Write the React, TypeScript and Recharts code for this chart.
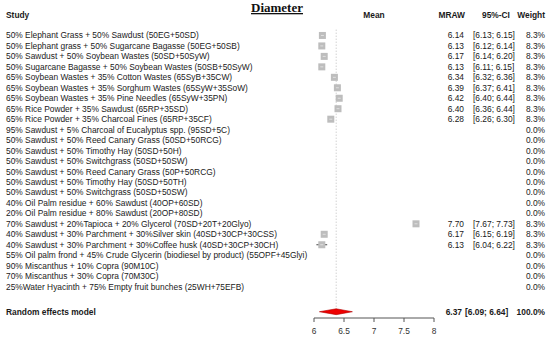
import React from "react";
import { ScatterChart, Scatter, XAxis, YAxis, ErrorBar, ReferenceLine } from "recharts";

const studies: string[] = [
  "50% Elephant Grass + 50% Sawdust (50EG+50SD)",
  "50% Elephant grass + 50% Sugarcane Bagasse (50EG+50SB)",
  "50% Sawdust + 50% Soybean Wastes (50SD+50SyW)",
  "50% Sugarcane Bagasse + 50% Soybean Wastes (50SB+50SyW)",
  "65% Soybean Wastes + 35% Cotton Wastes (65SyB+35CW)",
  "65% Soybean Wastes + 35% Sorghum Wastes (65SyW+35SoW)",
  "65% Soybean Wastes + 35% Pine Needles (65SyW+35PN)",
  "65% Rice Powder + 35% Sawdust (65RP+35SD)",
  "65% Rice Powder + 35% Charcoal Fines (65RP+35CF)",
  "95% Sawdust + 5% Charcoal of Eucalyptus spp. (95SD+5C)",
  "50% Sawdust + 50% Reed Canary Grass  (50SD+50RCG)",
  "50% Sawdust + 50% Timothy Hay (50SD+50H)",
  "50% Sawdust + 50% Switchgrass (50SD+50SW)",
  "50% Sawdust + 50% Reed Canary Grass  (50P+50RCG)",
  "50% Sawdust + 50% Timothy Hay (50SD+50TH)",
  "50% Sawdust + 50% Switchgrass (50SD+50SW)",
  "40% Oil Palm residue + 60% Sawdust (40OP+60SD)",
  "20% Oil Palm residue + 80% Sawdust (20OP+80SD)",
  "70% Sawdust + 20%Tapioca + 20% Glycerol (70SD+20T+20Glyo)",
  "40% Sawdust + 30% Parchment + 30%Silver skin (40SD+30CP+30CSS)",
  "40% Sawdust + 30% Parchment + 30%Coffee husk (40SD+30CP+30CH)",
  "55% Oil palm frond + 45% Crude Glycerin (biodiesel by product) (55OPF+45Glyi)",
  "90% Miscanthus + 10% Copra (90M10C)",
  "70% Miscanthus + 30% Copra (70M30C)",
  "25%Water Hyacinth + 75% Empty fruit bunches (25WH+75EFB)",
];

const means: (number | null)[] = [
  6.14, 6.13, 6.17, 6.13, 6.34, 6.39, 6.42, 6.40, 6.28,
  null, null, null, null, null, null, null, null, null,
  7.70, 6.17, 6.13,
  null, null, null, null,
];
const lows: (number | null)[] = [
  6.13, 6.12, 6.14, 6.11, 6.32, 6.37, 6.40, 6.36, 6.26,
  null, null, null, null, null, null, null, null, null,
  7.67, 6.15, 6.04,
  null, null, null, null,
];
const highs: (number | null)[] = [
  6.15, 6.14, 6.20, 6.15, 6.36, 6.41, 6.44, 6.44, 6.30,
  null, null, null, null, null, null, null, null, null,
  7.73, 6.19, 6.22,
  null, null, null, null,
];
const weights: number[] = [
  8.3, 8.3, 8.3, 8.3, 8.3, 8.3, 8.3, 8.3, 8.3,
  0, 0, 0, 0, 0, 0, 0, 0, 0,
  8.3, 8.3, 8.3,
  0, 0, 0, 0,
];

const pooledMean = 6.37;
const pooledLow = 6.09;
const pooledHigh = 6.64;
const pooledWeight = 100.0;

const xTicks = [6, 6.5, 7, 7.5, 8];

const RANDOM_ROW = 27.4;
const DIAMOND_HALF = 0.28;

const studyPoints = means
  .map((m, i) =>
    m === null
      ? null
      : { x: m, y: i + 1, err: [m - (lows[i] as number), (highs[i] as number) - m] }
  )
  .filter((p) => p !== null) as { x: number; y: number; err: number[] }[];

const diamondPoints = [
  { x: pooledLow, y: RANDOM_ROW },
  { x: pooledMean, y: RANDOM_ROW - DIAMOND_HALF },
  { x: pooledHigh, y: RANDOM_ROW },
  { x: pooledMean, y: RANDOM_ROW + DIAMOND_HALF },
  { x: pooledLow, y: RANDOM_ROW },
];

const rowTicks = [...studies.map((_, i) => i + 1), RANDOM_ROW];

const FONT = "'Liberation Sans', Arial, sans-serif";
const FS = 8.4;
const TXT = "#1a1a1a";

const fmt2 = (v: number) => v.toFixed(2);

const RowTick = (props: any) => {
  const { y, payload } = props;
  const v = payload.value;
  const isPooled = Math.abs(v - RANDOM_ROW) < 1e-6;
  const idx = Math.round(v) - 1;
  let label: string;
  let mean: string = "";
  let ci: string = "";
  let w: string;
  if (isPooled) {
    label = "Random effects model";
    mean = fmt2(pooledMean);
    ci = `[${fmt2(pooledLow)}; ${fmt2(pooledHigh)}]`;
    w = `${pooledWeight.toFixed(1)}%`;
  } else {
    label = studies[idx];
    const m = means[idx];
    if (m !== null) {
      mean = fmt2(m);
      ci = `[${fmt2(lows[idx] as number)}; ${fmt2(highs[idx] as number)}]`;
    }
    w = `${weights[idx].toFixed(1)}%`;
  }
  const common = {
    fontFamily: FONT,
    fontSize: FS,
    fill: TXT,
    dominantBaseline: "central" as const,
    fontWeight: isPooled ? 700 : 400,
  };
  return (
    <g>
      <text x={6} y={y} textAnchor="start" {...common}>{label}</text>
      {mean && <text x={isPooled ? 462 : 464} y={y} textAnchor="end" {...common}>{mean}</text>}
      {ci && <text x={isPooled ? 465 : 473} y={y} textAnchor="start" {...common}>{ci}</text>}
      <text x={545} y={y} textAnchor="end" {...common}>{w}</text>
    </g>
  );
};

const BoxShape = (props: any) => {
  const { cx, cy } = props;
  if (cx == null || cy == null) return <g />;
  const s = 7;
  return (
    <g>
      <rect x={cx - s / 2} y={cy - s / 2} width={s} height={s} fill="#bdbdbd" />
      <line x1={cx - 1.5} x2={cx + 1.5} y1={cy} y2={cy} stroke="#e8e8e8" strokeWidth={0.8} />
    </g>
  );
};

const NoShape = () => <g />;

export default function App() {
  return (
    <div style={{ position: "absolute", left: 0, top: 0, width: 550, height: 342, background: "#fff" }}>
      <ScatterChart
        width={550}
        height={342}
        margin={{ top: 25, right: 116, bottom: 0, left: 0 }}
      >
        <XAxis
          type="number"
          dataKey="x"
          domain={[6, 8]}
          ticks={xTicks}
          allowDataOverflow
          height={24}
          tickSize={4}
          tickMargin={6}
          stroke="#555"
          axisLine={{ stroke: "#555" }}
          tickLine={{ stroke: "#555" }}
          tick={{ fontFamily: FONT, fontSize: FS, fill: "#333" }}
          tickFormatter={(v: number) => String(v)}
        />
        <YAxis
          type="number"
          dataKey="y"
          domain={[0, 28]}
          reversed
          ticks={rowTicks}
          interval={0}
          width={314}
          axisLine={false}
          tickLine={false}
          tick={<RowTick />}
          allowDataOverflow
        />
        <ReferenceLine
          segment={[
            { x: pooledMean, y: 0.45 },
            { x: pooledMean, y: RANDOM_ROW - DIAMOND_HALF },
          ]}
          stroke="#b0b0b0"
          strokeDasharray="1 2"
          strokeWidth={0.8}
        />
        <Scatter data={studyPoints} shape={<NoShape />} isAnimationActive={false}>
          <ErrorBar dataKey="err" direction="x" width={0} stroke="#444" strokeWidth={1} isAnimationActive={false} />
        </Scatter>
        <Scatter data={studyPoints} shape={<BoxShape />} isAnimationActive={false} />
        <Scatter
          data={diamondPoints}
          shape={<NoShape />}
          line={{ stroke: "#b00000", fill: "#ee0000", strokeWidth: 0.6 }}
          lineJointType="linear"
          fill="#ee0000"
          isAnimationActive={false}
        />
      </ScatterChart>
      <svg
        width={550}
        height={342}
        style={{ position: "absolute", left: 0, top: 0, pointerEvents: "none" }}
      >
        <text
          x={277}
          y={12}
          textAnchor="middle"
          fontFamily="'Liberation Serif', 'Times New Roman', serif"
          fontWeight={700}
          fontSize={13}
          fill="#111"
          style={{ textDecoration: "underline" }}
        >
          Diameter
        </text>
        <g fontFamily={FONT} fontSize={FS} fontWeight={700} fill={TXT}>
          <text x={6} y={15} dominantBaseline="central" textAnchor="start">Study</text>
          <text x={374} y={15} dominantBaseline="central" textAnchor="middle">Mean</text>
          <text x={465} y={15} dominantBaseline="central" textAnchor="end">MRAW</text>
          <text x={482} y={15} dominantBaseline="central" textAnchor="start">95%-CI</text>
          <text x={545} y={15} dominantBaseline="central" textAnchor="end">Weight</text>
        </g>
      </svg>
    </div>
  );
}
